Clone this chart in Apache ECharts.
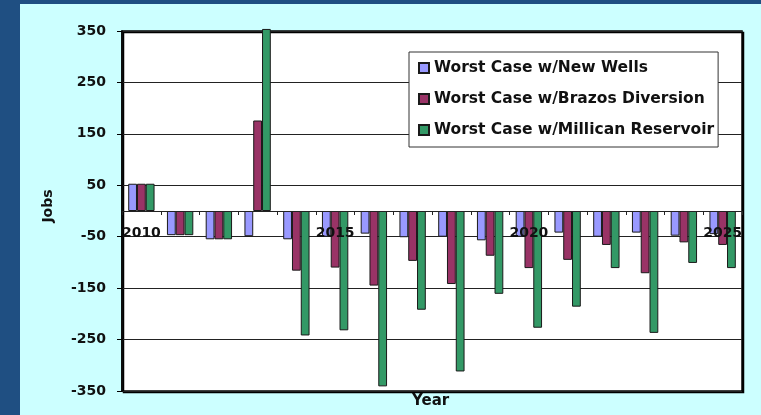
<!DOCTYPE html>
<html><head><meta charset="utf-8">
<script src="https://cdn.jsdelivr.net/npm/echarts@6/dist/echarts.min.js"></script>
<style>html,body{margin:0;padding:0;background:#1f4f82;}#c{width:761px;height:415px;}</style>
</head><body><div id="c"></div>
<script>
var years = ['2010','2011','2012','2013','2014','2015','2016','2017','2018','2019','2020','2021','2022','2023','2024','2025'];
var newWells = [53, -47, -55, -49, -55, -50, -44, -51, -50, -57, -50, -42, -50, -42, -48, -45];
var brazos   = [53, -47, -55, 176, -116, -110, -145, -97, -142, -87, -111, -95, -66, -121, -61, -66];
var millican = [53, -47, -55, 354, -242, -232, -341, -192, -312, -161, -227, -186, -111, -237, -101, -111];
var seriesNames = ['Worst Case w/New Wells', 'Worst Case w/Brazos Diversion', 'Worst Case w/Millican Reservoir'];

var font = '"DejaVu Sans", sans-serif';
var chart = echarts.init(document.getElementById('c'));
function bar(name, data, color) {
  return { name: name, type: 'bar', data: data, clip: false,
    barGap: '0%', barCategoryGap: '32%',
    itemStyle: { color: color, borderColor: '#1a1a1a', borderWidth: 1 } };
}
chart.setOption({
  backgroundColor: '#1f4f82',
  animation: false,
  graphic: [
    { type: 'rect', left: 20, top: 4, shape: { width: 741, height: 411 }, style: { fill: '#ccffff' }, z: -10 },
    { type: 'text', left: 412, top: 394, style: { text: 'Year', font: 'bold 15px ' + font, fill: '#111' } },
    { type: 'text', x: 48, y: 206, rotation: Math.PI / 2, style: { text: 'Jobs', font: 'bold 14px ' + font, fill: '#111', align: 'center', verticalAlign: 'middle' } }
  ],
  grid: { left: 122, right: 19, top: 31, bottom: 24, show: true, backgroundColor: '#fff',
    borderColor: '#000', borderWidth: 1.5, shadowColor: '#000', shadowOffsetX: 1.5, shadowOffsetY: 1.5, shadowBlur: 0 },
  legend: {
    data: seriesNames, orient: 'vertical', left: 409, top: 52,
    backgroundColor: '#fff', borderColor: '#333', borderWidth: 1,
    padding: [8, 4, 9, 9], itemGap: 15, itemWidth: 10, itemHeight: 10, icon: 'rect',
    textStyle: { fontFamily: font, fontWeight: 'bold', fontSize: 15.5, color: '#111' }
  },
  xAxis: {
    type: 'category', data: years, z: 5,
    axisLine: { onZero: true, lineStyle: { color: '#222', width: 1 } },
    axisTick: { show: true, interval: 0, length: 4, lineStyle: { color: '#222' } },
    axisLabel: { interval: 4, margin: -165, fontFamily: font, fontWeight: 'bold', fontSize: 14, color: '#111' },
    splitLine: { show: false }
  },
  yAxis: {
    type: 'value', min: -350, max: 350, interval: 100,
    axisLine: { show: true, lineStyle: { color: '#000', width: 1.5 } },
    axisTick: { show: true, length: 5, lineStyle: { color: '#000' } },
    axisLabel: { margin: 16, fontFamily: font, fontWeight: 'bold', fontSize: 14, color: '#111' },
    splitLine: { show: true, lineStyle: { color: '#222', width: 1 } }
  },
  series: [
    bar(seriesNames[0], newWells, '#9999ff'),
    bar(seriesNames[1], brazos, '#993366'),
    bar(seriesNames[2], millican, '#339966')
  ]
});
</script></body></html>
